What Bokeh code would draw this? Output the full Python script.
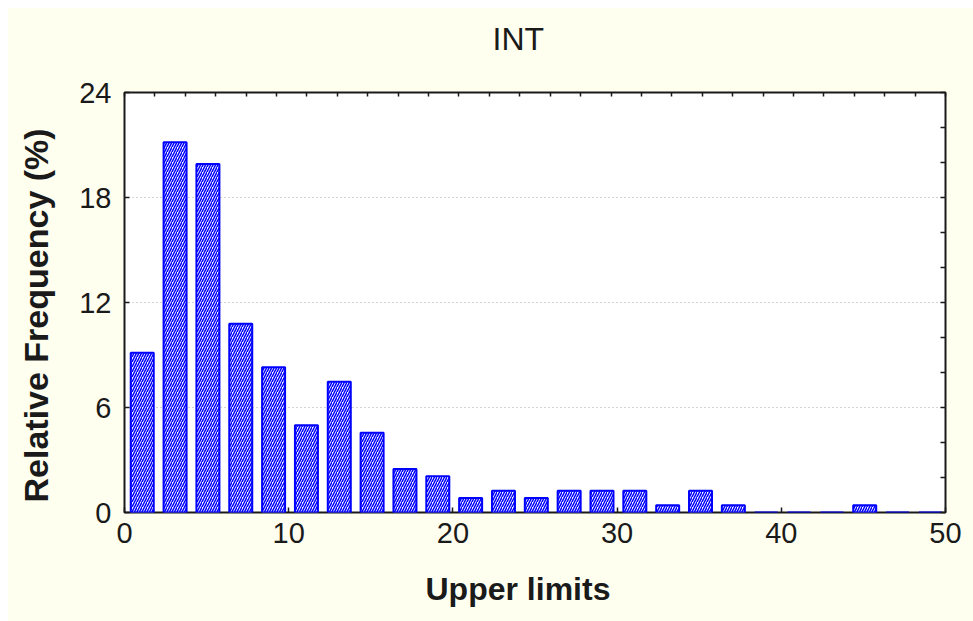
from bokeh.embed import file_html
from bokeh.models import ColumnDataSource, FixedTicker, LinearAxis, Range1d, Title
from bokeh.plotting import figure
from bokeh.resources import INLINE

# Histogram of INT: upper limit of each class and its relative frequency (%)
upper_limits = [2, 4, 6, 8, 10, 12, 14, 16, 18, 20, 22, 24, 26,
                28, 30, 32, 34, 36, 38, 40, 42, 44, 46, 48, 50]
rel_freq = [9.13, 21.16, 19.92, 10.79, 8.30, 4.98, 7.47, 4.56, 2.49, 2.07,
            0.83, 1.24, 0.83, 1.24, 1.24, 1.24, 0.41, 1.24, 0.41, 0.0,
            0.0, 0.0, 0.41, 0.0, 0.0]
x_ticks = [0, 10, 20, 30, 40, 50]
y_ticks = [0, 6, 12, 18, 24]

TITLE = "INT"
X_LABEL = "Upper limits"
Y_LABEL = "Relative Frequency (%)"

FONT = "Liberation Sans"
CREAM = "#FFFFF0"
BLUE = "#0000FF"
INK = "#1a1a1a"

# bars sit slightly right of each class centre, like the original software draws them
bar_x = [u - 0.92 for u in upper_limits]
source = ColumnDataSource(data=dict(x=bar_x, top=rel_freq))

p = figure(
    width=966, height=614,
    x_range=Range1d(0, 50), y_range=Range1d(0, 24),
    output_backend="svg", toolbar_location=None,
    x_axis_location=None, y_axis_location=None,
    min_border_left=117, min_border_right=28,
    min_border_top=85, min_border_bottom=109,
)
p.margin = (7, 0, 0, 7)
p.background_fill_color = "white"
p.border_fill_color = CREAM
p.outline_line_color = INK
p.outline_line_width = 2

p.vbar(x="x", top="top", bottom=0, width=1.40, source=source,
       fill_color="white", line_color=BLUE, line_width=2,
       hatch_pattern="/", hatch_color=BLUE, hatch_scale=5, hatch_weight=1.5)


def style_axis(ax, ticks, tick_len, labels=True, gap=0):
    ax.ticker = FixedTicker(ticks=ticks)
    ax.axis_line_color = None
    ax.major_tick_line_color = INK
    ax.major_tick_line_width = 1.5
    ax.major_tick_in = tick_len
    ax.major_tick_out = 0
    ax.minor_tick_line_color = None
    if labels:
        ax.major_label_text_font = FONT
        ax.major_label_text_font_size = "29px"
        ax.major_label_text_color = INK
    else:
        ax.major_label_text_font_size = "0px"
        ax.major_label_text_color = None
        ax.major_label_standoff = 0
    if gap:
        # blank axis label: only reserves room between the ticks and the titles
        ax.axis_label = " "
        ax.axis_label_text_font_size = "1px"
        ax.axis_label_standoff = gap


left = LinearAxis()
style_axis(left, y_ticks, 5, gap=18)
left.major_label_standoff = 13
p.add_layout(left, "left")

bottom = LinearAxis()
style_axis(bottom, x_ticks, 5, gap=19)
bottom.major_label_standoff = 10
p.add_layout(bottom, "below")

right = LinearAxis()
style_axis(right, list(range(0, 25, 2)), 5, labels=False)
p.add_layout(right, "right")

top = LinearAxis()
style_axis(top, [k * 50 / 27 for k in range(28)], 4, labels=False, gap=32)
p.add_layout(top, "above")

p.xgrid.visible = False
p.ygrid.ticker = FixedTicker(ticks=y_ticks)
p.ygrid.grid_line_color = "#a8a8a8"
p.ygrid.grid_line_dash = "1 3"
p.ygrid.grid_line_width = 1

# chart title and axis titles, shifted along their panels with offsets
p.add_layout(Title(text=TITLE, align="left", offset=368, standoff=0,
                   text_font=FONT, text_font_size="32px",
                   text_font_style="normal", text_color=INK), "above")
p.add_layout(Title(text=X_LABEL, align="left", offset=301, standoff=0,
                   text_font=FONT, text_font_size="32px",
                   text_font_style="bold", text_color=INK), "below")
p.add_layout(Title(text=Y_LABEL, align="left", offset=10, standoff=0,
                   text_font=FONT, text_font_size="34px",
                   text_font_style="bold", text_color=INK), "left")

open("out.html", "w").write(file_html(p, INLINE))
